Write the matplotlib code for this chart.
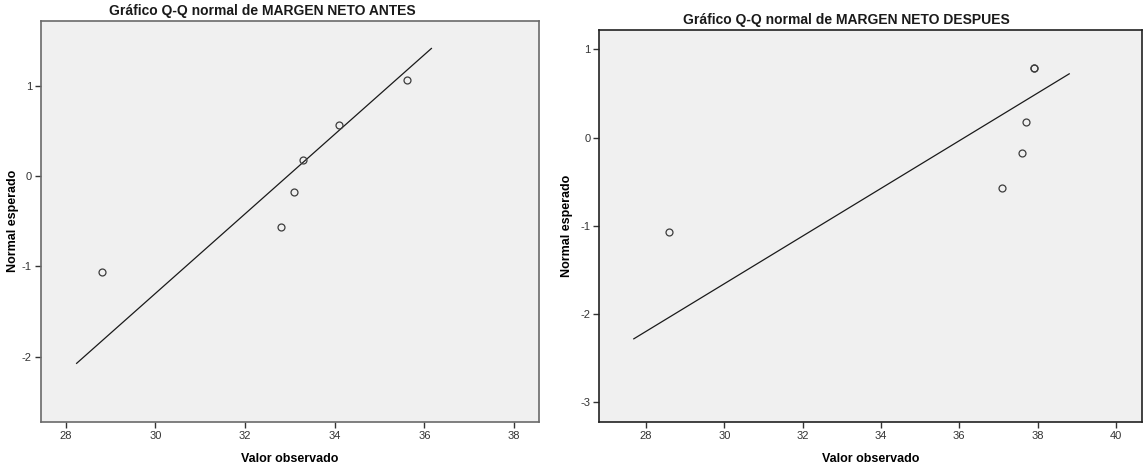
"""
Q-Q normal plots of MARGEN NETO, before and after.
"""

from statistics import NormalDist

import numpy as np
import matplotlib
matplotlib.use("Agg")
import matplotlib.pyplot as plt

plt.rcParams["font.family"] = ["Liberation Sans", "DejaVu Sans"]
plt.rcParams["axes.unicode_minus"] = False

# observed values
margen_antes = [28.8, 32.8, 33.1, 33.3, 34.1, 35.6]
margen_despues = [28.6, 37.1, 37.6, 37.7, 37.9, 37.9]

titles = [
    "Gráfico Q-Q normal de MARGEN NETO ANTES",
    "Gráfico Q-Q normal de MARGEN NETO DESPUES",
]
xticks = [[28, 30, 32, 34, 36, 38], [28, 30, 32, 34, 36, 38, 40]]
yticks = [[-2, -1, 0, 1], [-3, -2, -1, 0, 1]]


def expected_normal(values):
    # rank-based normal scores r/(n+1), ties get the mean rank
    x = np.asarray(values, dtype=float)
    n = len(x)
    order = np.argsort(x, kind="stable")
    ranks = np.empty(n)
    ranks[order] = np.arange(1, n + 1)
    for v in np.unique(x):
        ranks[x == v] = ranks[x == v].mean()
    nd = NormalDist()
    return np.array([nd.inv_cdf(r / (n + 1)) for r in ranks])


def qq_panel(ax, values, xt, yt, xlim, ylim, ext, spine_color, ylab_x):
    x = np.asarray(values, dtype=float)
    y = expected_normal(x)
    mu, sd = x.mean(), x.std(ddof=1)

    # reference line y = (x - mean) / sd over the data range plus a margin
    lx = np.array([x.min() - ext, x.max() + ext])
    ax.plot(lx, (lx - mu) / sd, color="#1a1a1a", lw=0.9, zorder=2)
    ax.plot(x, y, "o", ms=5, mfc="none", mec="#3c3c3c", mew=0.9, zorder=3)

    ax.set_facecolor("#f0f0f0")
    ax.set_xlim(*xlim)
    ax.set_ylim(*ylim)
    ax.set_xticks(xt)
    ax.set_yticks(yt)
    ax.tick_params(direction="out", length=4.5, width=1.0, color="#333333",
                   labelsize=8, labelcolor="#333333", pad=2)
    for s in ax.spines.values():
        s.set_color(spine_color)
        s.set_linewidth(1.2)
    ax.set_xlabel("Valor observado", fontsize=9, fontweight="bold", labelpad=9)
    ax.set_ylabel("Normal esperado", fontsize=9, fontweight="bold")
    ax.yaxis.set_label_coords(ylab_x, 0.5)


fig = plt.figure(figsize=(11.44, 4.67), dpi=100)
ax1 = fig.add_axes([0.0358, 0.097, 0.4356, 0.8587])
ax2 = fig.add_axes([0.5239, 0.097, 0.4744, 0.8388])

qq_panel(ax1, margen_antes, xticks[0], yticks[0],
         (27.45, 38.56), (-2.72, 1.72), 0.555, "#6a6a6a", -0.045)
qq_panel(ax2, margen_despues, xticks[1], yticks[1],
         (26.81, 40.67), (-3.22, 1.22), 0.91, "#222222", -0.0485)

fig.text(262 / 1144, 1 - 10.5 / 467, titles[0], ha="center", va="center",
         fontsize=10, fontweight="bold", color="#1a1a1a")
fig.text(846 / 1144, 1 - 20 / 467, titles[1], ha="center", va="center",
         fontsize=10, fontweight="bold", color="#1a1a1a")

fig.savefig("out.png", dpi=100, facecolor="white")
